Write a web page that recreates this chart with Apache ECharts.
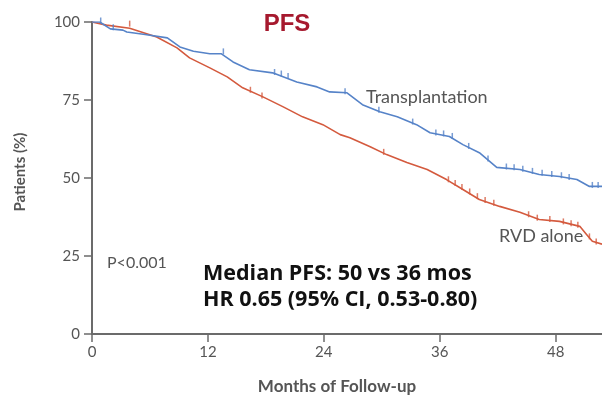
<!DOCTYPE html>
<html>
<head>
<meta charset="utf-8">
<script src="https://cdn.jsdelivr.net/npm/echarts@6/dist/echarts.min.js"></script>
<style>
  html, body { margin: 0; padding: 0; background: #fff; }
  #chart { width: 602px; height: 400px; }
</style>
</head>
<body>
<div id="chart"></div>
<script>
// Kaplan-Meier progression-free survival, months vs % of patients
const transplantMonths = [0, 0.8, 1.9, 3.2, 3.6, 5.5, 7.8, 9.1, 10.5, 12.2, 13.4, 13.6, 14.6, 16.3, 18.7, 21.2, 23.3, 24.6, 26.4, 28.0, 29.8, 31.6, 33.6, 35.0, 37.0, 38.4, 40.1, 41.9, 44.3, 46.3, 48.4, 50.2, 51.5, 52.8];
const transplantPct   = [100, 100, 97.8, 97.4, 96.8, 96.0, 94.9, 92.0, 90.6, 89.8, 89.8, 90.1, 87.2, 84.7, 83.7, 80.8, 79.2, 77.6, 77.3, 73.5, 71.2, 69.6, 67.1, 64.5, 63.3, 60.7, 58.1, 53.4, 52.7, 51.1, 50.5, 49.5, 47.3, 47.3];

const rvdMonths = [0, 1.5, 3.9, 6.7, 8.8, 10.1, 12.2, 13.2, 14.0, 15.6, 17.7, 19.8, 21.8, 23.9, 25.7, 26.7, 28.8, 30.5, 32.6, 34.7, 36.7, 38.4, 40.1, 42.2, 44.3, 46.3, 48.4, 50.5, 51.2, 51.8, 52.8];
const rvdPct    = [100, 99.0, 98.0, 95.2, 91.7, 88.5, 85.3, 83.7, 82.4, 78.9, 76.0, 72.8, 69.6, 67.1, 63.9, 62.9, 60.0, 57.5, 55.0, 52.7, 49.5, 46.3, 43.1, 40.9, 39.0, 36.7, 36.1, 34.5, 31.9, 29.7, 28.8];

// censored observations (month, %)
const transplantCensorMonths = [0.9, 2.2, 13.6, 18.9, 19.6, 20.3, 26.2, 29.7, 33.2, 35.6, 36.4, 37.3, 39.0, 41.0, 42.9, 43.7, 44.6, 45.6, 46.6, 47.6, 48.6, 49.4, 51.8, 52.4];
const transplantCensorPct    = [100, 97.8, 90.1, 83.5, 83.0, 82.2, 77.3, 71.4, 67.6, 64.1, 63.8, 63.0, 59.8, 55.8, 53.2, 53.0, 52.5, 51.8, 51.2, 50.8, 50.4, 49.8, 47.3, 47.3];

const rvdCensorMonths = [3.9, 16.4, 17.6, 30.2, 36.9, 37.6, 38.3, 39.1, 39.9, 40.7, 41.6, 45.2, 46.1, 47.4, 48.8, 49.6, 50.3, 51.5, 52.2];
const rvdCensorPct    = [99.0, 77.8, 76.0, 57.9, 49.1, 47.9, 46.6, 45.2, 43.7, 42.5, 41.6, 37.9, 36.8, 36.4, 35.6, 35.0, 34.5, 30.8, 29.2];

const monthTicks = [0, 12, 24, 36, 48];

const zip = (xs, ys) => xs.map((x, i) => [x, ys[i]]);

const chart = echarts.init(document.getElementById('chart'), null, { renderer: 'canvas' });

const axisGray = '#6b6b6b';
const labelGray = '#555555';
const tickFont = 'Lato, "Open Sans", sans-serif';
const blue = '#5683c8';
const red = '#d45a3e';
const censorSymbol = 'path://M0,0L1,0L1,10L0,10Z';

chart.setOption({
  animation: false,
  backgroundColor: '#ffffff',
  grid: { left: 92, right: 0, top: 22, bottom: 65, containLabel: false },
  xAxis: {
    type: 'value',
    min: 0,
    max: 52.8,
    interval: 12,
    splitLine: { show: false },
    axisLine: { show: true, onZero: false, lineStyle: { color: axisGray, width: 2 } },
    axisTick: { show: true, length: 8, customValues: monthTicks, lineStyle: { color: axisGray, width: 1.5 } },
    axisLabel: { customValues: monthTicks, color: labelGray, fontSize: 15, fontFamily: tickFont, margin: 11 },
    name: 'Months of Follow-up',
    nameLocation: 'middle',
    nameGap: 44,
    nameTextStyle: { color: labelGray, fontSize: 17, fontWeight: 'bold', fontFamily: tickFont, padding: [0, 20, 0, 0] }
  },
  yAxis: {
    type: 'value',
    min: 0,
    max: 100,
    interval: 25,
    splitLine: { show: false },
    axisLine: { show: true, lineStyle: { color: axisGray, width: 2 } },
    axisTick: { show: true, length: 8, lineStyle: { color: axisGray, width: 1.5 } },
    axisLabel: { color: labelGray, fontSize: 15, fontFamily: tickFont, margin: 12 },
    name: 'Patients (%)',
    nameLocation: 'middle',
    nameGap: 64,
    nameTextStyle: { color: labelGray, fontSize: 15, fontWeight: 'bold', fontFamily: tickFont, padding: [0, 0, 0, 12] }
  },
  series: [
    {
      name: 'Transplantation',
      type: 'line',
      data: zip(transplantMonths, transplantPct),
      showSymbol: false,
      lineStyle: { color: blue, width: 1.6 },
      z: 3
    },
    {
      name: 'RVD alone',
      type: 'line',
      data: zip(rvdMonths, rvdPct),
      showSymbol: false,
      lineStyle: { color: red, width: 1.6 },
      z: 2
    },
    {
      name: 'Transplantation censored',
      type: 'scatter',
      data: zip(transplantCensorMonths, transplantCensorPct),
      symbol: censorSymbol,
      symbolSize: [1.5, 6],
      symbolOffset: [0, -1.5],
      itemStyle: { color: blue },
      z: 3
    },
    {
      name: 'RVD alone censored',
      type: 'scatter',
      data: zip(rvdCensorMonths, rvdCensorPct),
      symbol: censorSymbol,
      symbolSize: [1.5, 6],
      symbolOffset: [0, -1.5],
      itemStyle: { color: red },
      z: 2
    }
  ],
  graphic: [
    {
      type: 'text', position: [287, 24],
      style: { text: 'PFS', fill: '#a6192e', font: 'bold 24px "Liberation Sans", Arial, sans-serif', textAlign: 'center', textVerticalAlign: 'middle' }
    },
    {
      type: 'text', position: [366, 97],
      style: { text: 'Transplantation', fill: '#555555', font: '18px Lato, "Open Sans", sans-serif', textVerticalAlign: 'middle' }
    },
    {
      type: 'text', position: [499, 236],
      style: { text: 'RVD alone', fill: '#555555', font: '18px Lato, "Open Sans", sans-serif', textVerticalAlign: 'middle' }
    },
    {
      type: 'text', position: [107, 263],
      style: { text: 'P<0.001', fill: '#555555', font: '16px Lato, "Open Sans", sans-serif', textVerticalAlign: 'middle' }
    },
    {
      type: 'text', position: [203, 274],
      style: { text: 'Median PFS: 50 vs 36 mos', fill: '#111111', font: 'bold 21.5px "Open Sans", "Noto Sans", sans-serif', textVerticalAlign: 'middle' }
    },
    {
      type: 'text', position: [203, 300],
      style: { text: 'HR 0.65 (95% CI, 0.53-0.80)', fill: '#111111', font: 'bold 21.5px "Open Sans", "Noto Sans", sans-serif', textVerticalAlign: 'middle' }
    }
  ]
});
</script>
</body>
</html>
